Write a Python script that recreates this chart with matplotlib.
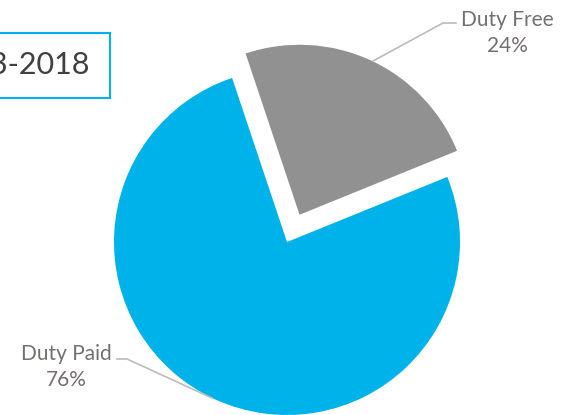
import matplotlib.pyplot as plt
from matplotlib.patches import Rectangle

labels = ['Duty Free', 'Duty Paid']
shares = [24, 76]
colors = ['#919191', '#00b2ea']
period = '2013-2018'

W, H = 566, 415

fig = plt.figure(figsize=(W / 100, H / 100), dpi=100)
ax = fig.add_axes([0, 0, 1, 1])

# pie laid out in pixel units, y measured from the bottom
wedges, _ = ax.pie(
    shares,
    colors=colors,
    startangle=108.5,
    counterclock=False,
    explode=[30, 0],
    center=(287, H - 242),
    radius=173,
    wedgeprops={'linewidth': 0},
    frame=True,
)
wedges[0].set_radius(170)
ax.set_xlim(0, W)
ax.set_ylim(0, H)
ax.set_aspect('equal')
ax.axis('off')

txt_color = '#757070'
line_color = '#bfbab5'
font = ['Lato', 'DejaVu Sans']

# data labels with leader lines
ax.plot([373, 443, 456], [H - 61, H - 23, H - 23], color=line_color, lw=1.2)
ax.text(507, H - 33, f'{labels[0]}\n{shares[0]}%', ha='center', va='center',
        fontsize=15, color=txt_color, family=font, linespacing=1.4)

ax.plot([212, 127, 117], [H - 398, H - 359, H - 359], color=line_color, lw=1.2)
ax.text(66, H - 367, f'{labels[1]}\n{shares[1]}%', ha='center', va='center',
        fontsize=15, color=txt_color, family=font, linespacing=1.4)

# title box running off the left edge
ax.add_patch(Rectangle((-200, H - 98), 310, 65, fill=False,
                       edgecolor='#00b0f0', lw=1.5, clip_on=False))
ax.text(90, H - 65, period, ha='right', va='center', fontsize=22,
        color='#404040', family=font, clip_on=False)

fig.savefig('out.png', dpi=100)
